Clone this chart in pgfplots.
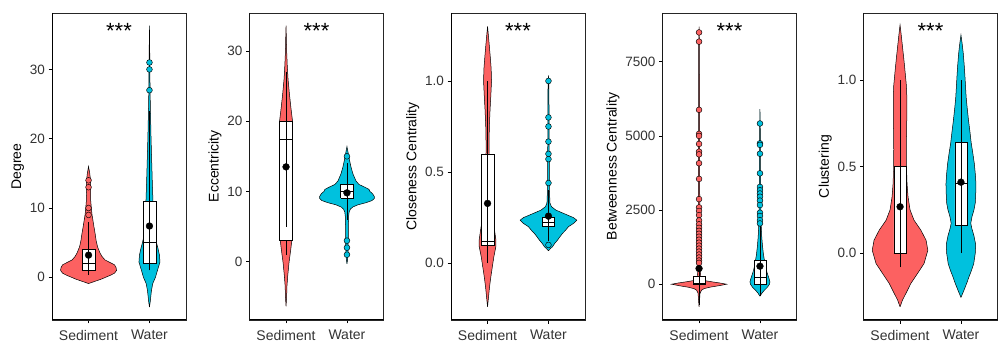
\documentclass[border=0pt]{standalone}
\usepackage{pgfplots}
\usepackage{pgfplotstable}
\pgfplotsset{compat=1.18}
\usepackage{fontspec}
\setmainfont{Liberation Sans}
\definecolor{sedred}{RGB}{252,97,97}
\definecolor{watcyan}{RGB}{0,193,222}

% violin outlines: y, signed half-width w in px (right side up, left side down)
\pgfplotstableread{
y w
-0.9 0
-0.75 3
-0.5 8
-0.25 13
0 17
0.3 22
0.6 26
1.0 28
1.4 27.5
1.8 26
2.1 22
2.5 16.5
3 13.5
3.5 11.5
4.4 9
5.3 7.6
6.3 6.6
7.3 5.4
8.3 4.3
9 3.5
10 2.8
11 2.2
12 2
13 2.2
14 2
15 1.2
16 0
15 -1.2
14 -2
13 -2.2
12 -2
11 -2.2
10 -2.8
9 -3.5
8.3 -4.3
7.3 -5.4
6.3 -6.6
5.3 -7.6
4.4 -9
3.5 -11.5
3 -13.5
2.5 -16.5
2.1 -22
1.8 -26
1.4 -27.5
1.0 -28
0.6 -26
0.3 -22
0 -17
-0.25 -13
-0.5 -8
-0.75 -3
-0.9 0
}\vsA
\pgfplotstableread{
y w
-4.3 0
-3.5 0.8
-2.8 1.3
-1.9 2
-0.9 3.3
0 6
1.0 8
2.2 10.5
3.2 10
4.2 8.5
5 7
6 5.5
7 4.8
8.5 4.2
11 3.5
14 2.8
17 2.2
20 1.6
24 1
27 0.6
31 0.4
36.3 0
31 -0.4
27 -0.6
24 -1
20 -1.6
17 -2.2
14 -2.8
11 -3.5
8.5 -4.2
7 -4.8
6 -5.5
5 -7
4.2 -8.5
3.2 -10
2.2 -10.5
1.0 -8
0 -6
-0.9 -3.3
-1.9 -2
-2.8 -1.3
-3.5 -0.8
-4.3 0
}\vwA
\pgfplotstableread{
y w
-6.35 0
-5 0.6
-3.5 0.9
-2 1.7
-0.1 3
1.5 4.5
3 5.8
5 6
10 6
15 6.2
18 6.4
20 6.5
22 4.8
24 3.3
26 2
28 1.2
30 0.6
32 0.3
33.6 0
32 -0.3
30 -0.6
28 -1.2
26 -2
24 -3.3
22 -4.8
20 -6.5
18 -6.4
15 -6.2
10 -6
5 -6
3 -5.8
1.5 -4.5
-0.1 -3
-2 -1.7
-3.5 -0.9
-5 -0.6
-6.35 0
}\vsB
\pgfplotstableread{
y w
-0.3 0
0.3 0.6
1 1
2 1.2
3.5 1.3
5 1.4
6.5 1.7
7.1 2.2
7.5 3.5
7.8 6
8.1 11
8.4 19
8.7 25
9.0 27.3
9.3 27.3
9.7 25.5
10.0 23
10.3 22
10.6 18
11 12
11.5 9
12.5 6
13.5 4
14.5 2.5
15.5 1.2
16.4 0
15.5 -1.2
14.5 -2.5
13.5 -4
12.5 -6
11.5 -9
11 -12
10.6 -18
10.3 -22
10.0 -23
9.7 -25.5
9.3 -27.3
9.0 -27.3
8.7 -25
8.4 -19
8.1 -11
7.8 -6
7.5 -3.5
7.1 -2.2
6.5 -1.7
5 -1.4
3.5 -1.3
2 -1.2
1 -1
0.3 -0.6
-0.3 0
}\vwB
\pgfplotstableread{
y w
-0.24 0
-0.185 1
-0.13 2
-0.075 3.3
-0.02 4.8
0.035 6.3
0.09 8.3
0.13 8.3
0.18 7
0.25 5
0.35 3
0.45 2
0.55 1.6
0.66 1.5
0.75 1.8
0.84 2.5
0.92 3.3
1.0 4
1.07 3.6
1.14 2.6
1.21 1.5
1.3 0
1.21 -1.5
1.14 -2.6
1.07 -3.6
1.0 -4
0.92 -3.3
0.84 -2.5
0.75 -1.8
0.66 -1.5
0.55 -1.6
0.45 -2
0.35 -3
0.25 -5
0.18 -7
0.13 -8.3
0.09 -8.3
0.035 -6.3
-0.02 -4.8
-0.075 -3.3
-0.13 -2
-0.185 -1
-0.24 0
}\vsC
\pgfplotstableread{
y w
0.068 0
0.08 2
0.09 4
0.11 6.5
0.126 9
0.145 11.5
0.163 14
0.18 17
0.2 20
0.218 25
0.236 28.3
0.25 25
0.264 19
0.278 13
0.291 7.5
0.31 3
0.33 1.5
0.4 1
0.55 0.8
0.75 0.6
0.95 0.5
1.03 0
0.95 -0.5
0.75 -0.6
0.55 -0.8
0.4 -1
0.33 -1.5
0.31 -3
0.291 -7.5
0.278 -13
0.264 -19
0.25 -25
0.236 -28.3
0.218 -25
0.2 -20
0.18 -17
0.163 -14
0.145 -11.5
0.126 -9
0.11 -6.5
0.09 -4
0.08 -2
0.068 0
}\vwC
\pgfplotstableread{
y w
-766 0
-500 0.6
-300 1
-200 2.5
-150 5
-100 11
-50 20
0 27.5
40 21
80 13
120 6
160 3
250 1.8
400 1.3
1000 1
2000 0.8
4000 0.6
6000 0.5
8000 0.4
8690 0
8000 -0.4
6000 -0.5
4000 -0.6
2000 -0.8
1000 -1
400 -1.3
250 -1.8
160 -3
120 -6
80 -13
40 -21
0 -27.5
-50 -20
-100 -11
-150 -5
-200 -2.5
-300 -1
-500 -0.6
-766 0
}\vsD
\pgfplotstableread{
y w
-405 0
-300 2
-200 4.5
-100 7.5
0 9.5
80 10
200 9
400 7
600 5.5
800 4.5
1000 3.5
1300 2.5
1600 1.8
2000 1.2
2500 0.9
3000 0.7
4000 0.5
5000 0.4
5900 0
5000 -0.4
4000 -0.5
3000 -0.7
2500 -0.9
2000 -1.2
1600 -1.8
1300 -2.5
1000 -3.5
800 -4.5
600 -5.5
400 -7
200 -9
80 -10
0 -9.5
-100 -7.5
-200 -4.5
-300 -2
-405 0
}\vwD
\pgfplotstableread{
y w
-0.31 0
-0.27 2.5
-0.233 5.8
-0.175 10.8
-0.117 17.5
-0.06 24
0.017 27.8
0.075 26
0.133 20.8
0.19 14
0.25 10
0.325 8
0.4 7
0.5 6.4
0.6 6.3
0.7 6.5
0.8 6.8
0.9 6.8
0.97 6.3
1.05 5
1.12 3.8
1.2 2.3
1.27 1
1.318 0
1.27 -1
1.2 -2.3
1.12 -3.8
1.05 -5
0.97 -6.3
0.9 -6.8
0.8 -6.8
0.7 -6.5
0.6 -6.3
0.5 -6.4
0.4 -7
0.325 -8
0.25 -10
0.19 -14
0.133 -20.8
0.075 -26
0.017 -27.8
-0.06 -24
-0.117 -17.5
-0.175 -10.8
-0.233 -5.8
-0.27 -2.5
-0.31 0
}\vsE
\pgfplotstableread{
y w
-0.256 0
-0.214 3
-0.17 6
-0.137 8
-0.1 10.5
-0.06 12.8
0 14.3
0.05 14.7
0.1 13
0.14 11
0.172 9.8
0.21 11
0.25 13
0.29 14.3
0.35 14.8
0.4 15
0.46 14.3
0.52 13.3
0.58 11.8
0.634 10.3
0.7 9
0.77 7.5
0.84 6.2
0.9 5.2
1.02 4
1.09 3.2
1.154 2.3
1.21 1.2
1.26 0
1.21 -1.2
1.154 -2.3
1.09 -3.2
1.02 -4
0.9 -5.2
0.84 -6.2
0.77 -7.5
0.7 -9
0.634 -10.3
0.58 -11.8
0.52 -13.3
0.46 -14.3
0.4 -15
0.35 -14.8
0.29 -14.3
0.25 -13
0.21 -11
0.172 -9.8
0.14 -11
0.1 -13
0.05 -14.7
0 -14.3
-0.06 -12.8
-0.1 -10.5
-0.137 -8
-0.17 -6
-0.214 -3
-0.256 0
}\vwE

\newcommand{\violin}[3]{% center, table, colour
  \addplot[fill=#3, draw=black, line width=0.5pt] table[x expr={#1+\thisrow{w}/60.9}, y=y] {#2};
}
\newcommand{\bxp}[8]{% xl, xc, xr, lo, q1, med, q3, hi
  \addplot[black, line width=0.5pt] coordinates {(#2,#4) (#2,#5)};
  \addplot[black, line width=0.5pt] coordinates {(#2,#7) (#2,#8)};
  \addplot[fill=white, draw=black, line width=0.5pt] coordinates {(#1,#5) (#3,#5) (#3,#7) (#1,#7) (#1,#5)};
  \addplot[black, line width=0.5pt] coordinates {(#1,#6) (#3,#6)};
}
\newcommand{\msd}[4]{% xc, lo, hi, mean
  \addplot[black, line width=0.5pt] coordinates {(#1,#2) (#1,#3)};
  \addplot[only marks, mark=*, mark size=3.4pt, black] coordinates {(#1,#4)};
}
\newcommand{\stars}{\node[font=\fontsize{22}{24}\selectfont, inner sep=0pt] at (rel axis cs:0.5,0.94) {***};}
\newcommand{\lbframe}{\draw[line width=1.1pt, black] (rel axis cs:0,1) -- (rel axis cs:0,0) -- (rel axis cs:1,0);}

\pgfplotsset{
  vpanel/.style={
    scale only axis, width=134pt, height=307pt, anchor=south west,
    xmin=0.4, xmax=2.6, xtick={1,2}, xticklabels={Sediment,Water},
    tick pos=left, tick align=outside, major tick length=3.5pt,
    tick style={black, line width=0.8pt},
    axis line style={line width=0.6pt, black!85},
    yticklabel style={font=\fontsize{13.5}{15}\selectfont, black!80},
    xticklabel style={font=\fontsize{14}{16}\selectfont, black!80, yshift=-3pt},
    label style={font=\fontsize{14}{16}\selectfont},
    /pgf/number format/assume math mode=true,
    ylabel style={yshift=-1pt},
  },
  outS/.style={only marks, mark=*, mark size=2.9pt, mark options={fill=sedred, draw=black, line width=0.45pt}},
  outW/.style={only marks, mark=*, mark size=2.9pt, mark options={fill=watcyan, draw=black, line width=0.45pt}},
}

\begin{document}
\begin{tikzpicture}
\useasboundingbox (0,0) rectangle (1001pt,345pt);

% Panel 1: Degree
\begin{axis}[vpanel, at={(52pt,25pt)}, ymin=-6.16, ymax=38.14, ytick={0,10,20,30}, yticklabels={0,10,20,30}, ylabel={Degree}]
\violin{1}{\vsA}{sedred}
\violin{2}{\vwA}{watcyan}
\bxp{0.895}{1}{1.105}{1}{1}{2}{4}{8}
\bxp{1.895}{2}{2.105}{1}{2}{5}{11}{24}
\addplot[outS] coordinates {(1,9) (1,10) (1,13) (1,14)};
\addplot[outW] coordinates {(2,27) (2,30) (2,31)};
\msd{1}{0.3}{6.1}{3.2}
\msd{2}{1.4}{13.4}{7.4}
\stars
\lbframe
\end{axis}

% Panel 2: Eccentricity
\begin{axis}[vpanel, at={(249.5pt,25pt)}, ymin=-8.30, ymax=35.41, ytick={0,10,20,30}, yticklabels={0,10,20,30}, ylabel={Eccentricity}]
\violin{1}{\vsB}{sedred}
\violin{2}{\vwB}{watcyan}
\bxp{0.895}{1}{1.105}{1}{3}{17.5}{20}{27}
\bxp{1.895}{2}{2.105}{6}{9}{10}{11}{14}
\addplot[outW] coordinates {(2,1) (2,2) (2,3) (2,15)};
\msd{1}{5}{22}{13.5}
\msd{2}{8}{11.4}{9.8}
\stars
\lbframe
\end{axis}

% Panel 3: Closeness Centrality
\begin{axis}[vpanel, at={(451pt,25pt)}, ymin=-0.312, ymax=1.373, ytick={0,0.5,1}, yticklabels={0.0,0.5,1.0}, ylabel={Closeness Centrality}]
\violin{1}{\vsC}{sedred}
\violin{2}{\vwC}{watcyan}
\bxp{0.895}{1}{1.105}{0}{0.10}{0.12}{0.60}{1.0}
\bxp{1.9}{2}{2.1}{0.13}{0.20}{0.222}{0.25}{0.32}
\addplot[outW] coordinates {(2,0.10) (2,0.44) (2,0.571) (2,0.60) (2,0.667) (2,0.75) (2,0.80) (2,1.0)};
\msd{1}{0.0}{0.66}{0.328}
\msd{2}{0.12}{0.40}{0.258}
\stars
\lbframe
\end{axis}

% Panel 4: Betweenness Centrality
\begin{axis}[vpanel, at={(662.5pt,25pt)}, ymin=-1207, ymax=9146, ytick={0,2500,5000,7500}, yticklabels={0,2500,5000,7500}, ylabel={Betweenness Centrality}]
\violin{1}{\vsD}{sedred}
\violin{2}{\vwD}{watcyan}
\bxp{0.9}{1}{1.1}{0}{0}{20}{280}{700}
\bxp{1.9}{2}{2.1}{0}{10}{240}{800}{2000}
\addplot[outS] coordinates {(1,8490) (1,8180) (1,5880) (1,5070) (1,5000) (1,4730) (1,4470) (1,4380) (1,4080) (1,3550) (1,2870) (1,2590) (1,2470) (1,2330) (1,2150) (1,2020) (1,1900) (1,1800) (1,1700) (1,1600) (1,1500) (1,1400) (1,1300) (1,1200) (1,1100) (1,1000) (1,900) (1,800) (1,720)};
\addplot[outW] coordinates {(2,5420) (2,4750) (2,4700) (2,4400) (2,3740) (2,3280) (2,3170) (2,3060) (2,2950) (2,2820) (2,2670) (2,2410) (2,2300) (2,2160) (2,2050)};
\msd{1}{-700}{1740}{530}
\msd{2}{-400}{1600}{608}
\stars
\lbframe
\end{axis}

% Panel 5: Clustering
\begin{axis}[vpanel, at={(863.5pt,25pt)}, ymin=-0.386, ymax=1.387, ytick={0,0.5,1}, yticklabels={0.0,0.5,1.0}, ylabel={Clustering}]
\violin{1}{\vsE}{sedred}
\violin{2}{\vwE}{watcyan}
\bxp{0.9}{1}{1.1}{0}{0}{0}{0.5}{1.0}
\bxp{1.9}{2}{2.1}{0}{0.162}{0.403}{0.638}{1.0}
\msd{1}{-0.08}{0.62}{0.268}
\msd{2}{0.11}{0.71}{0.41}
\stars
\lbframe
\end{axis}
\end{tikzpicture}
\end{document}
